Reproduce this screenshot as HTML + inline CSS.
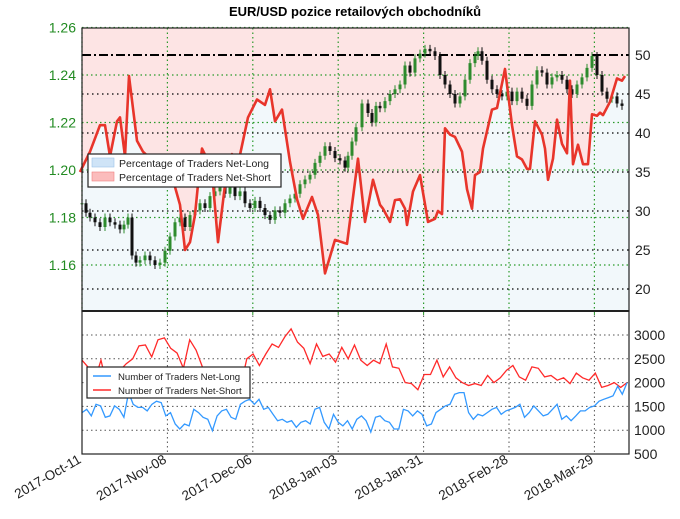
<!DOCTYPE html>
<html><head><meta charset="utf-8"><style>
body{margin:0;background:#fff;font-family:"Liberation Sans",sans-serif}
svg{display:block}
</style></head><body>
<svg id="c" width="680" height="519" xmlns="http://www.w3.org/2000/svg">
<text x="355" y="16" text-anchor="middle" font-size="13" font-weight="bold" font-family="Liberation Sans, sans-serif">EUR/USD pozice retailových obchodníků</text>
<g id="topg"></g><g id="botg"></g>
</svg>
<script>
// ---- data ----
const dateLabels=["2017-Oct-11","2017-Nov-08","2017-Dec-06","2018-Jan-03","2018-Jan-31","2018-Feb-28","2018-Mar-29"];
const dateDays=[0,28,56,84,112,140,168];
const priceTicks=[1.16,1.18,1.20,1.22,1.24,1.26];
const pctTicks=[20,25,30,35,40,45,50];
const cntTicks=[500,1000,1500,2000,2500,3000];
const pctX=[80,90,100,105,110,117,120,125,129,137,143,148,155,163,173,180,185,190,195,198,202,207,212,218,227,232,238,248,257,265,270,275,282,290,297,303,312,318,325,335,347,358,365,373,380,383,390,395,400,405,407,413,420,428,435,438,442,445,450,455,462,467,472,475,480,483,492,497,505,512,517,522,527,530,535,542,545,548,553,557,562,567,570,573,578,583,588,592,597,600,603,610,617,622,625];
const pctDays=pctX.map(x=>(x-82)/3.05);
const pctLong=[35,37.6,41,41,37,41.5,42,37,47.3,39,37.6,37,36,35,34,30.8,25,26,29.5,33.4,38,36.7,35,26,35.4,37.3,36,42,44.3,43.6,45.6,41.5,43,36.3,31.5,29,31.8,29.5,22,26.3,25.8,36.7,28.6,34,30.8,30.3,28.6,31.4,31.5,30.3,28.2,32.5,34.6,28.6,29,30,29.6,40.6,39.8,39.5,37.6,32.8,30.3,34.6,35,38,43,43.2,48.2,41,37,36.6,35.4,35.4,41.5,39.8,38,34,36.7,41.7,38.6,37.4,46.7,36,38.5,36,36,42.4,42.2,42.6,42.3,44,47,46.7,47.3];
const cX=[82,86,90,95,100,105,110,115,120,124,128,132,136,140,145,150,155,160,165,170,175,180,185,190,195,200,205,210,215,220,225,230,235,240,245,250,255,260,265,270,275,280,285,290,295,300,305,310,315,320,325,330,335,340,345,348,352,356,362,368,372,376,380,385,390,395,400,405,410,415,420,425,430,435,440,445,450,455,460,465,470,475,478,482,487,492,497,502,507,512,517,522,527,532,537,542,547,552,557,562,567,572,577,582,587,592,597,602,607,612,617,622];
const candleDays=cX.map(x=>(x-82)/3.05);
const closes=[1.186,1.182,1.180,1.178,1.176,1.180,1.178,1.177,1.175,1.177,1.180,1.164,1.161,1.162,1.164,1.162,1.160,1.161,1.166,1.172,1.178,1.180,1.176,1.181,1.183,1.186,1.184,1.189,1.191,1.193,1.190,1.195,1.189,1.191,1.186,1.184,1.187,1.184,1.181,1.179,1.183,1.182,1.186,1.188,1.190,1.194,1.196,1.198,1.203,1.206,1.210,1.208,1.205,1.204,1.201,1.206,1.212,1.218,1.228,1.224,1.220,1.227,1.226,1.229,1.232,1.234,1.236,1.244,1.241,1.247,1.249,1.251,1.250,1.248,1.240,1.236,1.232,1.228,1.231,1.238,1.245,1.248,1.250,1.246,1.238,1.234,1.232,1.231,1.233,1.229,1.233,1.230,1.227,1.236,1.242,1.241,1.236,1.239,1.240,1.238,1.234,1.232,1.236,1.239,1.243,1.248,1.240,1.233,1.230,1.231,1.228,1.227];
const nShort=[2470,2320,2050,2470,1900,1980,2260,2400,2500,2770,2790,2540,2900,2940,2720,2620,2300,2900,2680,2330,2260,2000,1980,1980,2000,1900,2500,2600,2360,2600,2810,2740,2960,3130,2850,2720,2400,2810,2550,2600,2430,2740,2500,2790,2470,2360,2470,2400,2810,2330,2300,2000,1980,1850,2170,2170,2470,2120,2330,2100,2000,1940,1980,1940,2150,2000,2100,2260,2360,2120,2050,2330,2300,2120,2150,2050,2100,1980,2200,2100,2050,2200,1900,1940,2000,1900,2000];
const nLong=[1370,1440,1300,1545,1510,1270,1300,1510,1440,1270,1790,1545,1480,1480,1405,1545,1610,1580,1300,1370,1130,1025,1130,1090,1440,1370,1270,1230,990,1300,1405,1440,1270,1230,1545,1610,1650,1545,1650,1440,1480,1335,1200,1230,1165,1200,1060,1165,1200,1130,1440,1480,1165,1025,1335,1165,1090,1200,1025,1230,1300,1200,960,1270,1300,1200,1165,1025,1025,1440,1405,1300,1405,1335,1090,1130,1370,1440,1510,1545,1755,1790,1790,1370,1230,1335,1300,1370,1440,1480,1335,1405,1440,1480,1545,1270,1370,1510,1405,1300,1335,1440,1545,1230,1300,1200,1300,1405,1405,1480,1510,1610,1650,1685,1720,1925,1755,1995];

// ---- scales ----
const X0=82,X1=629,T0=28,T1=311,B1=454;
const xd=d=>X0+d*3.05;
const yP=p=>75+(1.24-p)*2375;
const yQ=v=>55+(50-v)*7.8;
const yN=v=>335+(3000-v)*0.0476;
const xi=(i,n)=>X0+i*(X1-2-X0)/(n-1);
const NS="http://www.w3.org/2000/svg";
function mk(par,tag,at){const e=document.createElementNS(NS,tag);for(const k in at)e.setAttribute(k,at[k]);par.appendChild(e);return e;}
const topG=document.getElementById('topg'),botG=document.getElementById('botg');

let bg=mk(topG,'rect',{x:X0,y:T0,width:X1-X0,height:T1-T0,fill:'#fde4e4'});


let pts=pctDays.map((d,i)=>xd(d).toFixed(1)+','+yQ(pctLong[i]).toFixed(1));
let fillPts=[X0+','+T1,X0+','+yQ(pctLong[0])].concat(pts,[X1+','+yQ(pctLong[pctLong.length-1]),X1+','+T1]);
let ar=mk(topG,'polygon',{points:fillPts.join(' '),fill:'#f2f8fb'});


dateDays.forEach(d=>{let l=mk(topG,'line',{x1:xd(d),x2:xd(d),y1:T0,y2:T1,stroke:'#2a9a2a','stroke-width':1.2,'stroke-dasharray':'1.5,3'});

});
priceTicks.forEach(p=>{let l=mk(topG,'line',{x1:X0,x2:X1,y1:yP(p),y2:yP(p),stroke:'#2a9a2a','stroke-width':1.2,'stroke-dasharray':'1.5,3'});


let t=mk(topG,'text',{x:X0-6,y:yP(p)+5,'text-anchor':'end','font-size':14,fill:'#228b22'});t.textContent=p.toFixed(2);

});
pctTicks.forEach(v=>{if(v!==50){let l=mk(topG,'line',{x1:X0,x2:X1,y1:yQ(v),y2:yQ(v),stroke:'#000','stroke-width':1.2,'stroke-dasharray':'1.5,3.5'});

}
let t=mk(topG,'text',{x:X1+6,y:yQ(v)+5,'font-size':14,fill:'#222'});t.textContent=v;

});
let l50=mk(topG,'line',{x1:X0,x2:X1,y1:yQ(50),y2:yQ(50),stroke:'#000','stroke-width':2,'stroke-dasharray':'9,3,2,3'});


closes.forEach((c,i)=>{const o=i?closes[i-1]:c;const x=xd(candleDays[i]);const up=c>=o;const col=up?'#2e8b2e':'#111';
const yt=yP(Math.max(o,c)),yb=yP(Math.min(o,c));
let w=mk(topG,'line',{x1:x,x2:x,y1:yt-4,y2:yb+4,stroke:col,'stroke-width':1});


let r=mk(topG,'rect',{x:x-1.5,y:yt,width:3,height:Math.max(1,yb-yt),fill:col});

});
let pl=mk(topG,'polyline',{points:pts.join(' '),fill:'none',stroke:'#e8352b','stroke-width':2.6,'stroke-linejoin':'round'});


let fr=mk(topG,'rect',{x:X0,y:T0,width:X1-X0,height:T1-T0,fill:'none',stroke:'#222','stroke-width':1.2});



dateDays.forEach(d=>{let l=mk(botG,'line',{x1:xd(d),x2:xd(d),y1:T1,y2:B1,stroke:'#555','stroke-width':1,'stroke-dasharray':'1.5,3'});


let tk=mk(botG,'line',{x1:xd(d),x2:xd(d),y1:T1,y2:T1+4,stroke:'#2a9a2a','stroke-width':1});

});
dateLabels.forEach((s,i)=>{const x=xd(dateDays[i]);let t=mk(botG,'text',{x:x,y:462,'text-anchor':'end','font-size':13.5,fill:'#222',transform:`rotate(-30 ${x} 462)`});t.textContent=s;

});
cntTicks.forEach(v=>{if(v>500){let l=mk(botG,'line',{x1:X0,x2:X1,y1:yN(v),y2:yN(v),stroke:'#555','stroke-width':1,'stroke-dasharray':'1.5,3'});

}
let t=mk(botG,'text',{x:X1+5,y:Math.min(yN(v)+5,459),'font-size':14,fill:'#222'});t.textContent=v;

});
let ps=mk(botG,'polyline',{points:nShort.map((v,i)=>xi(i,nShort.length).toFixed(1)+','+yN(v).toFixed(1)).join(' '),fill:'none',stroke:'#ff2a2a','stroke-width':1.3});


let plg=mk(botG,'polyline',{points:nLong.map((v,i)=>xi(i,nLong.length).toFixed(1)+','+yN(v).toFixed(1)).join(' '),fill:'none',stroke:'#3399ff','stroke-width':1.3});


let fb=mk(botG,'rect',{x:X0,y:T1,width:X1-X0,height:B1-T1,fill:'none',stroke:'#222','stroke-width':1.2});


let sep=mk(botG,'line',{x1:X0,x2:X1,y1:T1,y2:T1,stroke:'#222','stroke-width':2});



function legend(par,x,y,w,h,items,name,fs,tl){const g=mk(par,'g',{});


mk(g,'rect',{x:x,y:y,width:w,height:h,fill:'#fff',stroke:'#222','stroke-width':1.2});
items.forEach((it,i)=>{const yy=y+9+i*14;
if(it.patch)mk(g,'rect',{x:x+4,y:yy-5,width:22,height:9,fill:it.c,stroke:it.s,'stroke-width':0.6});
else mk(g,'line',{x1:x+6,x2:x+24,y1:yy,y2:yy,stroke:it.c,'stroke-width':1.5});
const t=mk(g,'text',{x:x+31,y:yy+4,'font-size':fs,fill:'#222'});t.textContent=it.t;});}
legend(topG,88,154,193,33,[{patch:1,c:'#cfe4f7',s:'#9cc3ea',t:'Percentage of Traders Net-Long'},{patch:1,c:'#fbbcbc',s:'#f08080',t:'Percentage of Traders Net-Short'}],'top-legend',10.5);
legend(botG,87,367,163,31,[{c:'#3399ff',t:'Number of Traders Net-Long'},{c:'#ff2a2a',t:'Number of Traders Net-Short'}],'bottom-legend',9.6);
</script>
</body></html>
